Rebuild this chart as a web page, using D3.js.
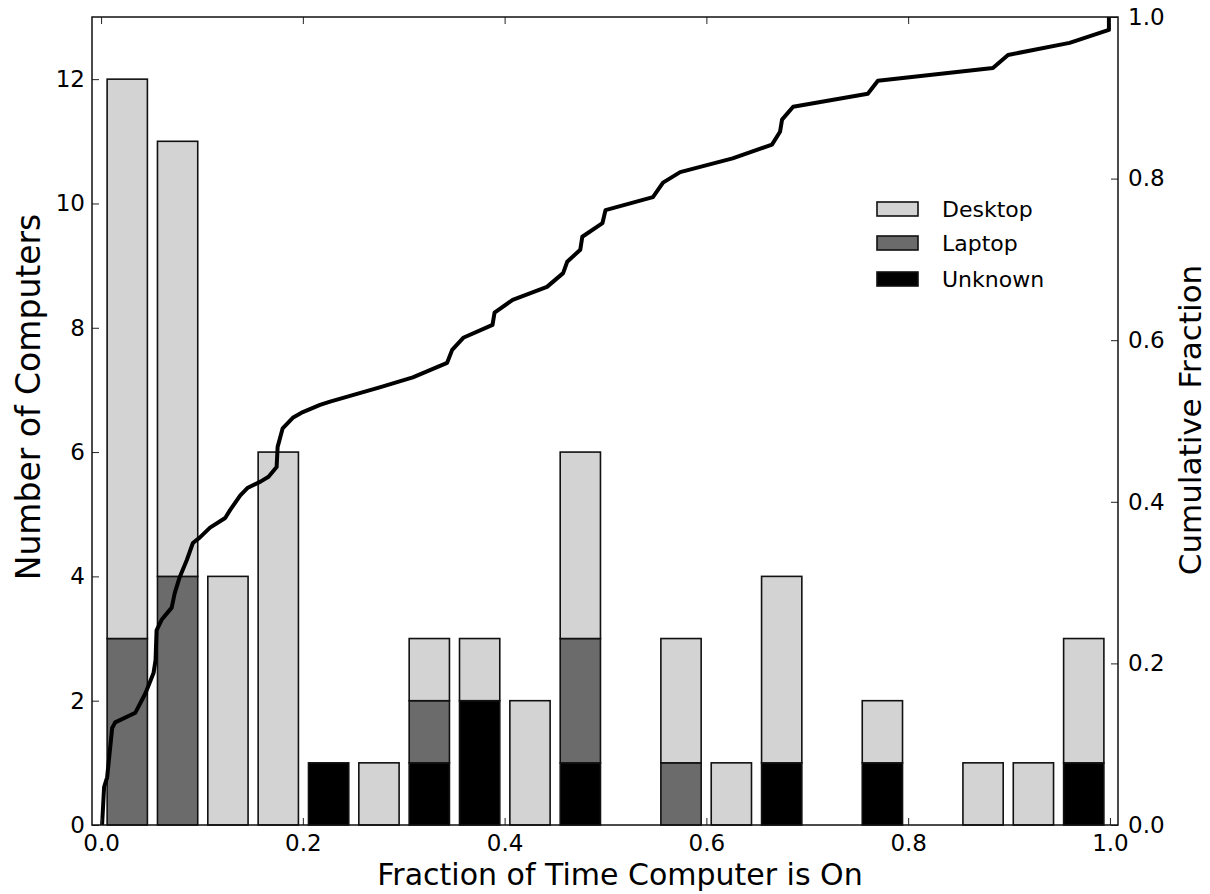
<!DOCTYPE html>
<html>
<head>
<meta charset="utf-8">
<script src="https://cdn.jsdelivr.net/npm/d3@7"></script>
<style>
  html, body { margin: 0; padding: 0; background: #fff; }
  svg { display: block; font-family: "DejaVu Sans", sans-serif; }
</style>
</head>
<body>
<svg id="chart" width="1210" height="894"></svg>
<script>
// ---------------- data ----------------
const dataMin = 0.001;
const dataMax = 0.999;
const binCount = 20;
const desktop = [9, 7, 4, 6, 0, 1, 1, 1, 2, 3, 0, 2, 1, 3, 0, 1, 0, 1, 1, 2];
const laptop  = [3, 4, 0, 0, 0, 0, 1, 0, 0, 2, 0, 1, 0, 0, 0, 0, 0, 0, 0, 0];
const unknown = [0, 0, 0, 0, 1, 0, 1, 2, 0, 1, 0, 0, 0, 1, 0, 1, 0, 0, 0, 1];
const seriesNames = ["Desktop", "Laptop", "Unknown"];

// cumulative fraction curve (x = fraction of time on, y = cumulative fraction)
const cdfX = [0.001, 0.003, 0.006, 0.011, 0.014, 0.034, 0.044, 0.052, 0.054, 0.055,
              0.060, 0.070, 0.073, 0.078, 0.085, 0.091, 0.098, 0.108, 0.123, 0.128,
              0.138, 0.145, 0.158, 0.166, 0.174, 0.175, 0.180, 0.190, 0.200, 0.217,
              0.227, 0.277, 0.309, 0.343, 0.348, 0.359, 0.388, 0.390, 0.408, 0.442,
              0.458, 0.462, 0.475, 0.477, 0.497, 0.500, 0.547, 0.557, 0.574, 0.626,
              0.665, 0.673, 0.675, 0.686, 0.760, 0.770, 0.884, 0.899, 0.960, 0.999, 0.999];
const cdfY = [0.000, 0.047, 0.059, 0.120, 0.127, 0.139, 0.163, 0.188, 0.204, 0.241,
              0.254, 0.269, 0.287, 0.307, 0.328, 0.349, 0.356, 0.368, 0.380, 0.390,
              0.408, 0.417, 0.425, 0.431, 0.443, 0.468, 0.491, 0.504, 0.511, 0.520,
              0.524, 0.542, 0.554, 0.572, 0.588, 0.603, 0.619, 0.634, 0.650, 0.666,
              0.683, 0.697, 0.712, 0.728, 0.745, 0.761, 0.777, 0.795, 0.808, 0.825,
              0.842, 0.858, 0.873, 0.889, 0.905, 0.921, 0.937, 0.953, 0.968, 0.984, 1.000];

const xTicks = [0.0, 0.2, 0.4, 0.6, 0.8, 1.0];
const yLeftTicks = [0, 2, 4, 6, 8, 10, 12];
const yRightTicks = [0.0, 0.2, 0.4, 0.6, 0.8, 1.0];

// ---------------- layout ----------------
const L = 92, R = 1118, T = 17, B = 825;
const svg = d3.select("#chart");

const x = d3.scaleLinear().domain([-0.009, 1.008]).range([L, R]);
const yL = d3.scaleLinear().domain([0, 13]).range([B, T]);
const yR = d3.scaleLinear().domain([0, 1]).range([B, T]);

const colors = { Desktop: "#d3d3d3", Laptop: "#6b6b6b", Unknown: "#000000" };

// bins
const binW = (dataMax - dataMin) / binCount;
const rows = desktop.map((d, i) => ({
  x0: dataMin + i * binW,
  Desktop: d, Laptop: laptop[i], Unknown: unknown[i]
}));
const stack = d3.stack().keys(["Unknown", "Laptop", "Desktop"]);
const stacked = stack(rows);

const gBars = svg.append("g");
stacked.forEach(layer => {
  gBars.selectAll(null)
    .data(layer.filter(s => s[1] - s[0] > 0))
    .enter().append("rect")
    .attr("x", s => x(s.data.x0 + 0.1 * binW))
    .attr("width", s => x(s.data.x0 + 0.9 * binW) - x(s.data.x0 + 0.1 * binW))
    .attr("y", s => yL(s[1]))
    .attr("height", s => yL(s[0]) - yL(s[1]))
    .attr("fill", colors[layer.key])
    .attr("stroke", "#111")
    .attr("stroke-width", 1.6);
});

// CDF line
const cdf = cdfX.map((v, i) => [v, cdfY[i]]);
svg.append("path")
  .datum(cdf)
  .attr("d", d3.line().x(d => x(d[0])).y(d => yR(d[1])))
  .attr("fill", "none")
  .attr("stroke", "#000")
  .attr("stroke-width", 4)
  .attr("stroke-linejoin", "round");

// axes
function styleAxis(g) {
  g.select(".domain").remove();
  g.selectAll(".tick line").attr("stroke", "#222").attr("stroke-width", 1);
  g.selectAll(".tick text").attr("fill", "#000").style("font-family", "DejaVu Sans").style("font-size", "23px");
}
svg.append("g").attr("transform", `translate(0,${B})`)
  .call(d3.axisBottom(x).tickValues(xTicks).tickFormat(d3.format(".1f")).tickSize(-7).tickPadding(10))
  .call(styleAxis);
svg.append("g").attr("transform", `translate(0,${T})`)
  .call(d3.axisTop(x).tickValues(xTicks).tickFormat("").tickSize(-7))
  .call(styleAxis);
svg.append("g").attr("transform", `translate(${L},0)`)
  .call(d3.axisLeft(yL).tickValues(yLeftTicks).tickFormat(d3.format("d")).tickSize(-7).tickPadding(7))
  .call(styleAxis);
svg.append("g").attr("transform", `translate(${R},0)`)
  .call(d3.axisRight(yR).tickValues(yRightTicks).tickFormat(d3.format(".1f")).tickSize(-7).tickPadding(10))
  .call(styleAxis);

// frame
svg.append("rect").attr("x", L).attr("y", T).attr("width", R - L).attr("height", B - T)
  .attr("fill", "none").attr("stroke", "#111").attr("stroke-width", 1.5);

// axis labels
svg.append("text").attr("x", 620).attr("y", 885).attr("text-anchor", "middle")
  .style("font-size", "30px").text("Fraction of Time Computer is On");
svg.append("text").attr("transform", "translate(40,397) rotate(-90)").attr("text-anchor", "middle")
  .style("font-size", "33px").text("Number of Computers");
svg.append("text").attr("transform", "translate(1201,420) rotate(-90)").attr("text-anchor", "middle")
  .style("font-size", "31px").text("Cumulative Fraction");

// legend
const lg = svg.append("g");
const legY = [209, 243, 279];
seriesNames.forEach((name, i) => {
  lg.append("rect").attr("x", 877).attr("y", legY[i] - 7).attr("width", 41).attr("height", 14)
    .attr("fill", colors[name]).attr("stroke", "#111").attr("stroke-width", 1.6);
  lg.append("text").attr("x", 942).attr("y", legY[i] + 8)
    .style("font-size", "22px").text(name);
});
</script>
</body>
</html>
